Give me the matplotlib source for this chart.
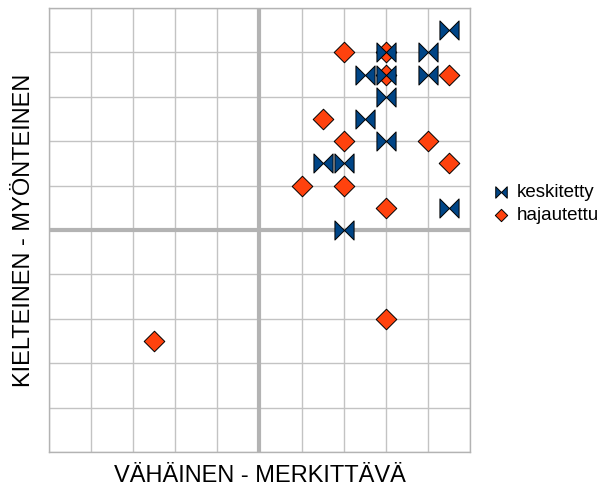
import numpy as np
import matplotlib
matplotlib.use("Agg")
from matplotlib import pyplot as plt
from matplotlib.path import Path

plt.rcParams['font.family'] = ['Liberation Sans', 'DejaVu Sans']

# keskitetty (blue bow-ties)
kesk_x = [4.5, 3, 4, 2.5, 3, 4, 3, 2.5, 3, 1.5, 2, 4.5, 2]
kesk_y = [4.5, 4, 4, 3.5, 3.5, 3.5, 3, 2.5, 2, 1.5, 1.5, 0.5, 0]

# hajautettu (orange diamonds)
haja_x = [2, 3, 3, 4.5, 1.5, 2, 4, 4.5, 1, 2, 3, 3, -2.5]
haja_y = [4, 4, 3.5, 3.5, 2.5, 2, 2, 1.5, 1, 1, 0.5, -2, -2.5]

labels = ["keskitetty", "hajautettu"]

# bow-tie marker: two triangles meeting in the middle
bowtie = Path(
    [(-1, 1), (-1, -1), (0, 0), (-1, 1), (1, 1), (1, -1), (0, 0), (1, 1)],
    [Path.MOVETO, Path.LINETO, Path.LINETO, Path.CLOSEPOLY,
     Path.MOVETO, Path.LINETO, Path.LINETO, Path.CLOSEPOLY],
)


def quadrant_plot():
    fig = plt.figure(figsize=(6.13, 4.92), dpi=100)
    ax = fig.add_axes([0.0799, 0.0813, 0.6868, 0.9024])

    ax.set_xlim(-5, 5)
    ax.set_ylim(-5, 5)
    for v in range(-5, 6):
        if v == 0:
            continue
        ax.axvline(v, color="#c3c3c3", lw=1.0, zorder=1)
        ax.axhline(v, color="#c3c3c3", lw=1.0, zorder=1)
    ax.axvline(0, color="#b3b3b3", lw=3.0, zorder=1)
    ax.axhline(0, color="#b3b3b3", lw=3.0, zorder=1)

    ax.scatter(haja_x, haja_y, marker="D", s=110, color="#ff420e",
               edgecolor="black", linewidth=0.7, zorder=3, label=labels[1])
    ax.scatter(kesk_x, kesk_y, marker=bowtie, s=190, color="#004586",
               edgecolor="black", linewidth=0.7, zorder=4, label=labels[0])

    ax.set_xticks([])
    ax.set_yticks([])
    for s in ax.spines.values():
        s.set_color("#b3b3b3")
        s.set_linewidth(1.0)

    ax.set_xlabel("VÄHÄINEN - MERKITTÄVÄ", fontsize=17, labelpad=9)
    ax.set_ylabel("KIELTEINEN - MYÖNTEINEN", fontsize=17, labelpad=10)

    h, l = ax.get_legend_handles_labels()
    fig.legend(h[::-1], l[::-1], loc="center left", bbox_to_anchor=(0.778, 0.585),
               frameon=False, fontsize=13.5, handletextpad=0.4, markerscale=0.6,
               labelspacing=0.3, handlelength=0.8)

    fig.savefig("out.png", dpi=100)


if __name__ == '__main__':
    quadrant_plot()
